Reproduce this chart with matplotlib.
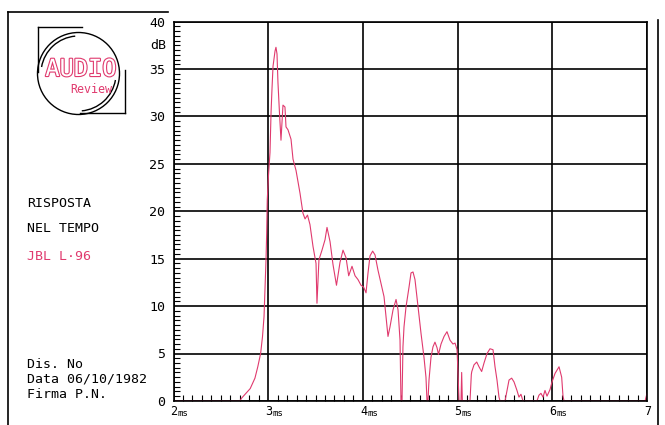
import matplotlib
matplotlib.use('Agg')
import matplotlib.pyplot as plt
from matplotlib.patches import Circle, Arc
from matplotlib.ticker import MultipleLocator
import matplotlib.patheffects as pe

# ---------------- data ----------------
time_ms = [2.00, 2.70, 2.72, 2.81, 2.86, 2.89, 2.92, 2.94, 2.956, 2.966, 2.977,
           2.984, 2.990, 3.003, 3.019, 3.030, 3.040, 3.051, 3.072, 3.082, 3.093,
           3.103, 3.119, 3.135, 3.156, 3.177, 3.188, 3.209, 3.241, 3.262, 3.294,
           3.336, 3.367, 3.389, 3.415, 3.441, 3.473, 3.505, 3.515, 3.536, 3.568,
           3.600, 3.621, 3.653, 3.684, 3.721, 3.758, 3.790, 3.822, 3.850, 3.885,
           3.917, 3.948, 3.980, 4.008, 4.033, 4.054, 4.075, 4.103, 4.128, 4.159,
           4.191, 4.223, 4.244, 4.265, 4.286, 4.318, 4.350, 4.371, 4.392, 4.402,
           4.413, 4.423, 4.434, 4.455, 4.487, 4.508, 4.529, 4.550, 4.582, 4.614,
           4.645, 4.666, 4.677, 4.687, 4.698, 4.719, 4.740, 4.761, 4.783, 4.798,
           4.825, 4.857, 4.888, 4.920, 4.951, 4.973, 4.994, 5.004, 5.015, 5.036,
           5.043, 5.050, 5.120, 5.131, 5.145, 5.150, 5.173, 5.202, 5.226, 5.254,
           5.279, 5.311, 5.342, 5.374, 5.395, 5.416, 5.437, 5.448, 5.501, 5.522,
           5.543, 5.571, 5.596, 5.627, 5.648, 5.669, 5.690, 5.838, 5.859, 5.880,
           5.902, 5.923, 5.944, 5.976, 5.997, 6.029, 6.071, 6.099, 6.113, 6.124,
           6.980, 7.000]
level_db = [0.0, 0.0, 0.3, 1.3, 2.4, 3.6, 5.0, 6.8, 8.9, 11.7, 14.9,
            17.7, 21.2, 23.8, 26.2, 30.4, 32.9, 35.3, 36.9, 37.3, 36.6,
            33.6, 30.4, 27.5, 31.2, 31.0, 28.9, 28.6, 27.6, 25.5, 24.3,
            21.9, 19.8, 19.2, 19.6, 18.6, 16.3, 14.5, 10.3, 14.9, 15.9,
            17.0, 18.3, 16.8, 14.4, 12.2, 14.6, 15.9, 15.1, 13.2, 14.2,
            13.2, 12.8, 12.2, 12.0, 11.4, 13.5, 15.3, 15.8, 15.4, 13.8,
            12.4, 11.0, 8.9, 6.8, 7.8, 9.6, 10.7, 9.6, 6.4, 0.0,
            0.0, 5.7, 7.8, 9.9, 12.0, 13.5, 13.6, 12.8, 9.9, 7.1,
            4.6, 2.5, 0.0, 0.0, 2.2, 4.6, 5.7, 6.2, 5.6, 4.9,
            6.0, 6.8, 7.3, 6.4, 6.0, 6.1, 5.4, 3.0, 0.0, 0.0,
            3.0, 0.0, 0.0, 0.0, 2.8, 3.1, 3.8, 4.1, 3.6, 3.1,
            4.0, 5.0, 5.5, 5.4, 3.6, 2.2, 0.4, 0.0, 0.0, 1.1,
            2.2, 2.4, 2.0, 1.1, 0.4, 0.7, 0.0, 0.0, 0.6, 0.8,
            0.4, 1.1, 0.5, 1.2, 2.0, 2.9, 3.6, 2.5, 0.5, 0.0,
            0.0, 0.8]

y_ticks = [0, 5, 10, 15, 20, 25, 30, 35, 40]
y_tick_labels = ['0', '5', '10', '15', '20', '25', '30', '35', '40']
x_ticks = [2, 3, 4, 5, 6, 7]
x_tick_digits = ['2', '3', '4', '5', '6', '7']
x_tick_units = ['ms', 'ms', 'ms', 'ms', 'ms', '']

title_lines = ['RISPOSTA', 'NEL TEMPO']
model_name = 'JBL L·96'
footer_lines = ['Dis. No', 'Data 06/10/1982', 'Firma P.N.']

# ---------------- styling ----------------
plt.rcParams['font.family'] = ['DejaVu Sans Mono', 'DejaVu Sans']
PINK = '#e03a6e'
W, H = 665, 425

fig = plt.figure(figsize=(W / 100, H / 100), dpi=100)
fig.patch.set_facecolor('white')

# overlay axes in pixel units (for frame, logo, side texts)
ov = fig.add_axes([0, 0, 1, 1], zorder=0)
ov.set_xlim(0, W)
ov.set_ylim(H, 0)
ov.axis('off')

x0, x1, y0, y1 = 173.5, 647.0, 400.9, 21.7
ax = fig.add_axes([x0 / W, (H - y0) / H, (x1 - x0) / W, (y0 - y1) / H], zorder=1)
ax.set_facecolor('none')

ax.plot(time_ms, level_db, color=PINK, lw=0.8, zorder=2)
ax.set_xlim(2, 7)
ax.set_ylim(0, 40)
ax.set_axisbelow(True)
ax.grid(True, which='major', color='black', lw=1.2)
for s in ax.spines.values():
    s.set_linewidth(1.2)
    s.set_color('black')
    s.set_zorder(3)

ax.set_yticks(y_ticks, y_tick_labels)
ax.yaxis.set_minor_locator(MultipleLocator(0.5))
ax.tick_params(axis='y', which='major', length=0, pad=6, labelsize=9.5)
ax.tick_params(axis='y', which='minor', direction='in', length=4, width=0.8)

ax.set_xticks(x_ticks)
ax.xaxis.set_minor_locator(MultipleLocator(0.1))
ax.tick_params(axis='x', which='major', length=0, labelbottom=False)
ax.tick_params(axis='x', which='minor', direction='in', length=4, width=0.8)

for xv, dg, un in zip(x_ticks, x_tick_digits, x_tick_units):
    t = ax.annotate(dg, xy=(xv, 0), xycoords=('data', 'axes fraction'),
                    xytext=(-3, -11), textcoords='offset pixels',
                    ha='left', va='center', fontsize=8.5)
    if un:
        ax.annotate(un, xy=(1, 0), xycoords=t, ha='left', va='bottom',
                    fontsize=6.5)

ov.text(166, 45, 'dB', ha='right', va='center', fontsize=9.5)

# frame
kw = dict(color='black', lw=1.2)
ov.plot([8, 8], [12, H], **kw)
ov.plot([8, 168], [12, 12], **kw)
ov.plot([658, 658], [20, H], **kw)

# logo
cx, cy = 78.5, 73.5
ov.add_patch(Circle((cx, cy), 41, fill=False, ec='black', lw=1.0))
ov.add_patch(Arc((cx, cy), 2 * 37.5, 2 * 37.5, theta1=190, theta2=265, ec='black', lw=1.0))
ov.add_patch(Arc((cx, cy), 2 * 37.5, 2 * 37.5, theta1=10, theta2=85, ec='black', lw=1.0))
ov.plot([38, 82], [27, 27], color='black', lw=1.0)
ov.plot([38, 38], [27, 72], color='black', lw=1.0)
ov.plot([80, 125], [113, 113], color='black', lw=1.0)
ov.plot([125, 125], [70, 113], color='black', lw=1.0)
ov.text(81, 69, 'AUDIO', ha='center', va='center', fontsize=17, color='white',
        path_effects=[pe.Stroke(linewidth=1.6, foreground=PINK), pe.Normal()])
ov.text(91, 89, 'Review', ha='center', va='center', fontsize=8.4, color=PINK)

# side texts
for yy, s in zip([203, 228], title_lines):
    ov.text(27, yy, s, ha='left', va='center', fontsize=9.5, color='black')
ov.text(27, 256, model_name, ha='left', va='center', fontsize=9.5, color=PINK)
for yy, s in zip([364, 379, 395], footer_lines):
    ov.text(27, yy, s, ha='left', va='center', fontsize=9.5, color='black')

fig.savefig('out.png', dpi=100, facecolor='white')
